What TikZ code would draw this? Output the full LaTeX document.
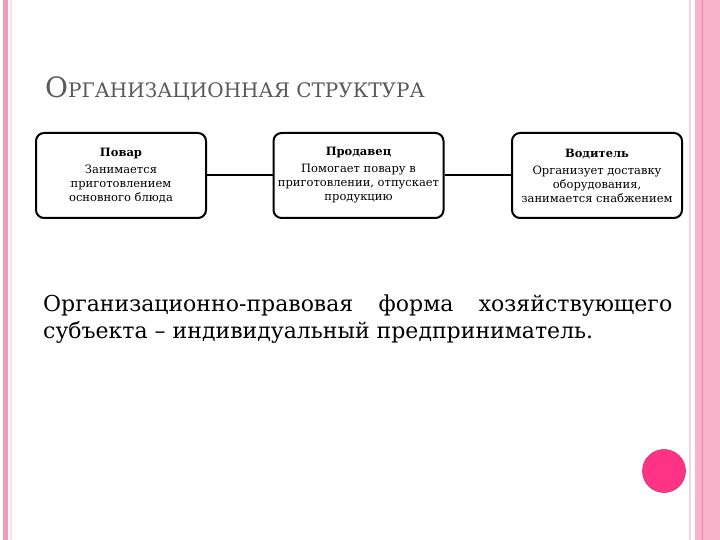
\documentclass[tikz,border=0pt]{standalone}
\usepackage{fontspec}
\setmainfont{DejaVu Serif}
\definecolor{pinkband}{HTML}{FBB3CB}
\definecolor{pinkline}{HTML}{F49AB9}
\definecolor{darkpinkline}{HTML}{D98AA6}
\definecolor{dotpink}{HTML}{FF3385}
\definecolor{titlegray}{HTML}{5A5A5A}
\tikzset{
  rolebox/.style={draw=black, line width=2pt, rounded corners=8pt, fill=white,
    minimum width=170pt, minimum height=85pt, align=center, inner sep=2pt,
    font=\fontsize{11.5}{14}\selectfont},
  link/.style={draw=black, line width=2pt}
}
\begin{document}
\begin{tikzpicture}[x=1pt,y=-1pt]
\useasboundingbox (0,0) rectangle (720,540);
\fill[white] (0,0) rectangle (720,540);
% left border
\fill[pinkline] (3,0) rectangle (8,540);
\fill[pinkband!40] (10,0) rectangle (12,540);
% right border
\fill[pinkband!60] (689,0) rectangle (691,540);
\fill[pinkband] (695,0) rectangle (720,540);
\fill[darkpinkline] (701.5,0) rectangle (703,540);
% title
\node[anchor=base west, inner sep=0, text=titlegray] (title) at (45,98)
  {\fontsize{28}{28}\selectfont О\fontsize{20}{20}\selectfont РГАНИЗАЦИОННАЯ СТРУКТУРА};
% boxes
\node[rolebox] (cook) at (121,175.5) {\textbf{Повар}\\[3pt]Занимается\\приготовлением\\основного блюда};
\node[rolebox] (seller) at (358.5,175.5) {\textbf{Продавец}\\[3pt]Помогает повару в\\приготовлении, отпускает\\продукцию};
\node[rolebox] (driver) at (597,175.5) {\textbf{Водитель}\\[3pt]Организует доставку\\оборудования,\\занимается снабжением};
\draw[link] (cook.east) -- (seller.west);
\draw[link] (seller.east) -- (driver.west);
% body text
\node[anchor=base west, inner sep=0] (body1) at (43,311)
  {\fontsize{22}{24}\selectfont\makebox[629pt][s]{Организационно-правовая форма хозяйствующего}};
\node[anchor=base west, inner sep=0] (body2) at (43,338)
  {\fontsize{22}{24}\selectfont субъекта – индивидуальный предприниматель.};
% dot
\node[circle, fill=dotpink, draw=dotpink!85!black, line width=0.6pt, minimum size=43pt, inner sep=0] (dot) at (664,471) {};
\end{tikzpicture}
\end{document}
